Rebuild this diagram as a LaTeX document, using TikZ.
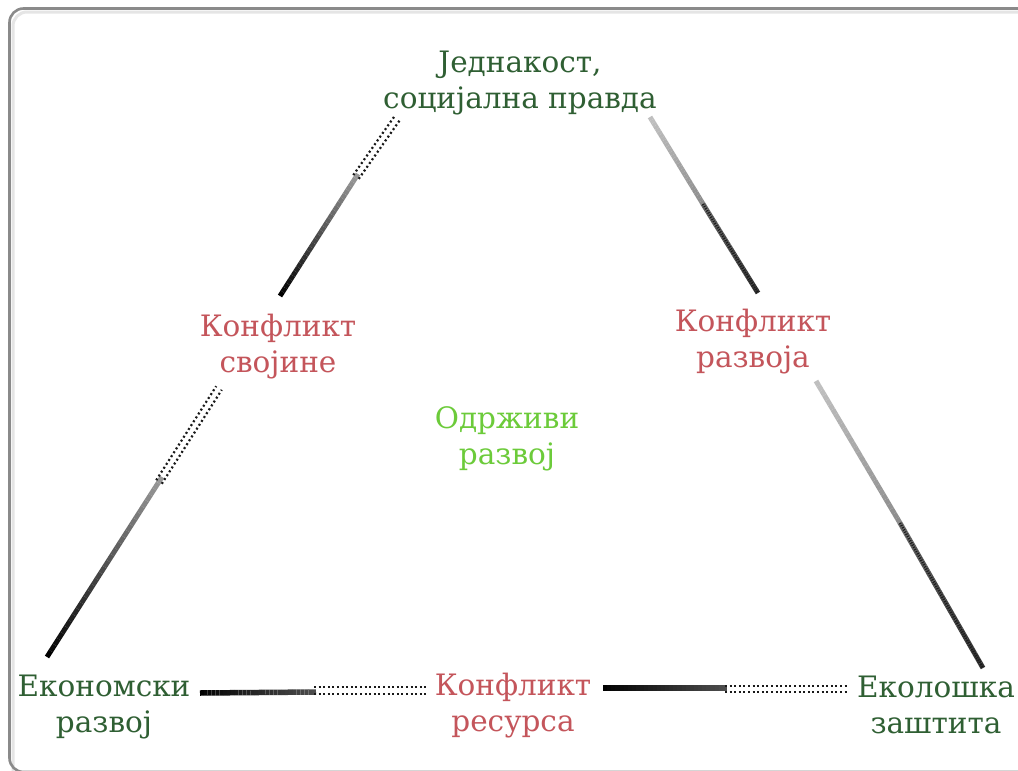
\documentclass[tikz,border=0pt]{standalone}
\usepackage{fontspec}
\setmainfont{DejaVu Serif}
\usetikzlibrary{calc}

\definecolor{pillar}{HTML}{2F5F33}
\definecolor{conflict}{HTML}{C4555B}
\definecolor{core}{HTML}{6CCB3A}
\definecolor{frame}{HTML}{8A8A8A}

% solid part of a connector, its darkness going from #3 to #4 percent black
\newcommand\shadedseg[5]{%
  \foreach \i in {0,...,29}{%
    \pgfmathtruncatemacro\pp{#3+(#4-#3)*\i/29}%
    \draw[line width=#5, line cap=butt, color=black!\pp]
      ($(#1)!\i/30!(#2)$) -- ($(#1)!\i/30+1/30!(#2)$);
  }%
}
% dotted part of a connector: two parallel rows of dots
\newcommand\dottedseg[2]{%
  \draw[dotrow] ($(#1)!3.3pt!90:(#2)$) -- ($(#2)!3.3pt!-90:(#1)$);
  \draw[dotrow] ($(#1)!3.3pt!-90:(#2)$) -- ($(#2)!3.3pt!90:(#1)$);
}

\begin{document}
\begin{tikzpicture}[x=1pt, y=-1pt,
  lbl/.style={align=center, inner sep=0pt, font=\fontsize{29.5}{36}\selectfont},
  pillarlbl/.style={lbl, text=pillar},
  conflictlbl/.style={lbl, text=conflict},
  corelbl/.style={lbl, text=core},
  dotrow/.style={line width=2.2pt, dash pattern=on 2pt off 2.6pt, color=black!90},
  texture/.style={line width=2.6pt, dash pattern=on 1pt off 1.5pt, color=black!90},
]
\useasboundingbox (0,0) rectangle (1018,771);

% frame
\fill[white] (0,0) rectangle (1018,771);
\draw[frame!22, line width=3pt, rounded corners=14pt] (13,12) rectangle (1060,800);
\draw[frame, line width=2.6pt, rounded corners=14pt] (9.5,8.5) rectangle (1060,772);

% labels
\node[pillarlbl] (soc) at (520,83) {Једнакост,\\социјална правда};
\node[pillarlbl] (eco) at (104,707) {Економски\\развој};
\node[pillarlbl] (env) at (936,705) {Еколошка\\заштита};
\node[conflictlbl] (prop) at (278,347) {Конфликт\\својине};
\node[conflictlbl] (dev) at (753,342) {Конфликт\\развоја};
\node[conflictlbl] (res) at (513,706) {Конфликт\\ресурса};
\node[corelbl] (sus) at (507,439) {Одрживи\\развој};

% connector end points
\coordinate (a1) at (280,296); \coordinate (m1) at (358,174); \coordinate (n1) at (356,177); \coordinate (b1) at (398,117);
\coordinate (a2) at (650,117); \coordinate (m2) at (703,204); \coordinate (b2) at (758,293);
\coordinate (a3) at (47,657);  \coordinate (m3) at (162,477); \coordinate (n3) at (159,482); \coordinate (b3) at (219,388);
\coordinate (a4) at (816,381); \coordinate (m4) at (900,523); \coordinate (b4) at (983,668);
\coordinate (a5) at (200,693); \coordinate (m5) at (316,692); \coordinate (n5) at (314,690.5); \coordinate (b5) at (426,690.5);
\coordinate (a6) at (603,688); \coordinate (m6) at (727,688); \coordinate (n6) at (725,689); \coordinate (b6) at (847,689);

% Економски развој -- Једнакост (via Конфликт својине)
\shadedseg{a1}{m1}{100}{40}{5pt}
\dottedseg{n1}{b1}
\shadedseg{a3}{m3}{100}{40}{5pt}
\dottedseg{n3}{b3}

% Једнакост -- Еколошка заштита (via Конфликт развоја)
\shadedseg{a2}{m2}{25}{45}{5pt}
\shadedseg{m2}{b2}{60}{82}{5pt}
\draw[texture] (m2) -- (b2);
\shadedseg{a4}{m4}{25}{45}{5pt}
\shadedseg{m4}{b4}{60}{82}{5pt}
\draw[texture] (m4) -- (b4);

% Економски развој -- Еколошка заштита (via Конфликт ресурса)
\shadedseg{a5}{m5}{100}{70}{5.5pt}
\dottedseg{n5}{b5}
\shadedseg{a6}{m6}{100}{70}{5.5pt}
\dottedseg{n6}{b6}
\end{tikzpicture}
\end{document}
